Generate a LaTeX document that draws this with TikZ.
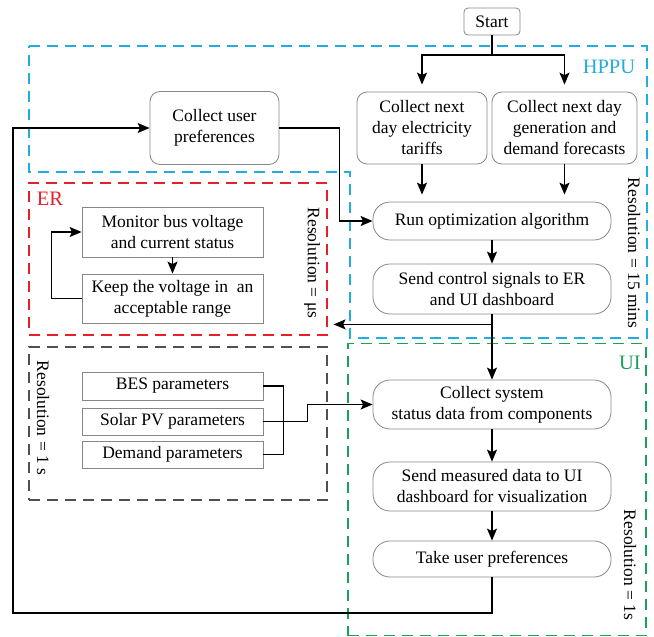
\documentclass[tikz,border=0pt]{standalone}
\usepackage{fontspec}
\setmainfont{Liberation Serif}
\usepackage{xcolor}
\usepackage{tikz}
\usetikzlibrary{arrows.meta, positioning}

\definecolor{hppucol}{RGB}{35,172,222}
\definecolor{ercol}{RGB}{228,32,40}
\definecolor{uicol}{RGB}{25,160,90}
\definecolor{paramcol}{RGB}{80,80,80}
\definecolor{boxgray}{RGB}{135,135,135}

\begin{document}
\begin{tikzpicture}[
    x=1pt, y=-1pt,
    txt/.style={font=\fontsize{17.5}{21}\selectfont, align=center, inner sep=0pt},
    softbox/.style={txt, rectangle, draw=boxgray, line width=0.8pt, rounded corners=10pt},
    pill/.style={txt, rectangle, draw=boxgray, line width=0.8pt, rounded corners=17pt},
    plainbox/.style={txt, rectangle, draw=boxgray, line width=0.8pt},
    zone/.style={rectangle, dash pattern=on 11pt off 7pt, line width=1.2pt, inner sep=0pt},
    zonelabel/.style={font=\fontsize{20.5}{24}\selectfont, inner sep=0pt},
    restext/.style={txt, rotate=-90},
    line/.style={line width=1.4pt},
    arrow/.style={line, -{Stealth[length=12pt, width=10pt, inset=2.5pt]}},
    gaparrow/.style={arrow, shorten >=7pt}
]
\useasboundingbox (0,0) rectangle (654,637);

% Zones
\draw[zone, draw=hppucol] (29,46) -- (647,46) -- (647,338) -- (350,338) -- (350,172) -- (29,172) -- cycle;
\node[zone, draw=ercol, minimum width=298pt, minimum height=152pt] (erzone) at (178,259) {};
\node[zone, draw=paramcol, minimum width=298pt, minimum height=153pt] (paramzone) at (178,423.5) {};
\node[zone, draw=uicol, minimum width=298pt, minimum height=292pt] (uizone) at (497,489.5) {};

% Zone labels
\node[zonelabel, text=hppucol] (hppulbl) at (609,67) {HPPU};
\node[zonelabel, text=ercol] (erlbl) at (50,199) {ER};
\node[zonelabel, text=uicol] (uilbl) at (630,363) {UI};

% Resolutions
\node[restext] (res15) at (634,253) {Resolution = 15 mins};
\node[restext] (resmu) at (312,263) {Resolution = μs};
\node[restext] (resone) at (43,418) {Resolution = 1 s};
\node[restext] (resui) at (630,565) {Resolution = 1s};

% HPPU boxes
\node[softbox, rounded corners=4pt, minimum width=56pt, minimum height=27pt] (start) at (492,21.5) {Start};
\node[softbox, minimum width=129pt, minimum height=73pt] (userpref) at (214.5,128) {Collect user\\preferences};
\node[softbox, minimum width=130pt, minimum height=72pt] (tariff) at (422,128) {Collect next\\day electricity\\tariffs};
\node[softbox, minimum width=145pt, minimum height=72pt] (forecast) at (564.5,128) {Collect next day\\generation and\\demand forecasts};
\node[pill, minimum width=238pt, minimum height=38pt] (runopt) at (492,221) {Run optimization algorithm};
\node[pill, minimum width=238pt, minimum height=50pt] (sendctrl) at (492,289) {Send control signals to ER\\and UI dashboard};

% ER boxes
\node[plainbox, minimum width=181pt, minimum height=50pt] (monitor) at (172.5,232) {Monitor bus voltage\\and current status};
\node[plainbox, minimum width=181pt, minimum height=49pt] (keep) at (172.5,298.5) {Keep the voltage in\ \ an\\acceptable range};

% Parameter boxes
\node[plainbox, minimum width=181pt, minimum height=28pt] (bes) at (172.5,386) {BES parameters};
\node[plainbox, minimum width=181pt, minimum height=27pt] (solar) at (172.5,421.5) {Solar PV parameters};
\node[plainbox, minimum width=181pt, minimum height=27pt] (demand) at (172.5,454.5) {Demand parameters};

% UI boxes
\node[pill, minimum width=238pt, minimum height=49pt] (status) at (492,404.5) {Collect system\\status data from components};
\node[pill, minimum width=238pt, minimum height=49pt] (measured) at (492,486.5) {Send measured data to UI\\dashboard for visualization};
\node[pill, minimum width=238pt, minimum height=36pt] (take) at (492,559) {Take user preferences};

% Arrows in HPPU
\coordinate (fork) at (492,55);
\draw[line] (start) -- (fork);
\draw[gaparrow] (fork) -| (tariff);
\draw[gaparrow] (fork) -| (forecast);
\draw[gaparrow] (tariff.south) -- (tariff.south |- runopt.north);
\draw[gaparrow] (forecast.south) -- (forecast.south |- runopt.north);
\draw[arrow] (userpref.east) -- ++(60,0) |- (runopt.west);
\draw[arrow] (runopt) -- (sendctrl);

% Signals to ER and UI
\path (sendctrl.south) ++(0,10) coordinate (split);
\draw[arrow, shorten >=6pt] (split) -- (split -| erzone.east);
\draw[arrow] (sendctrl) -- (status);

% ER loop
\draw[arrow] (monitor) -- (keep);
\draw[arrow] (keep.west) -- ++(-30,0) |- (monitor.west);

% Parameters to UI
\draw[line] (bes.east) -- ++(20,0) |- (demand.east);
\draw[arrow] (solar.east) -- ++(44,0) |- (status.west);

% UI flow
\draw[arrow] (status) -- (measured);
\draw[arrow] (measured) -- (take);
\coordinate (back) at (13,613);
\draw[arrow] (take.south) |- (back) |- (userpref.west);

\end{tikzpicture}
\end{document}
